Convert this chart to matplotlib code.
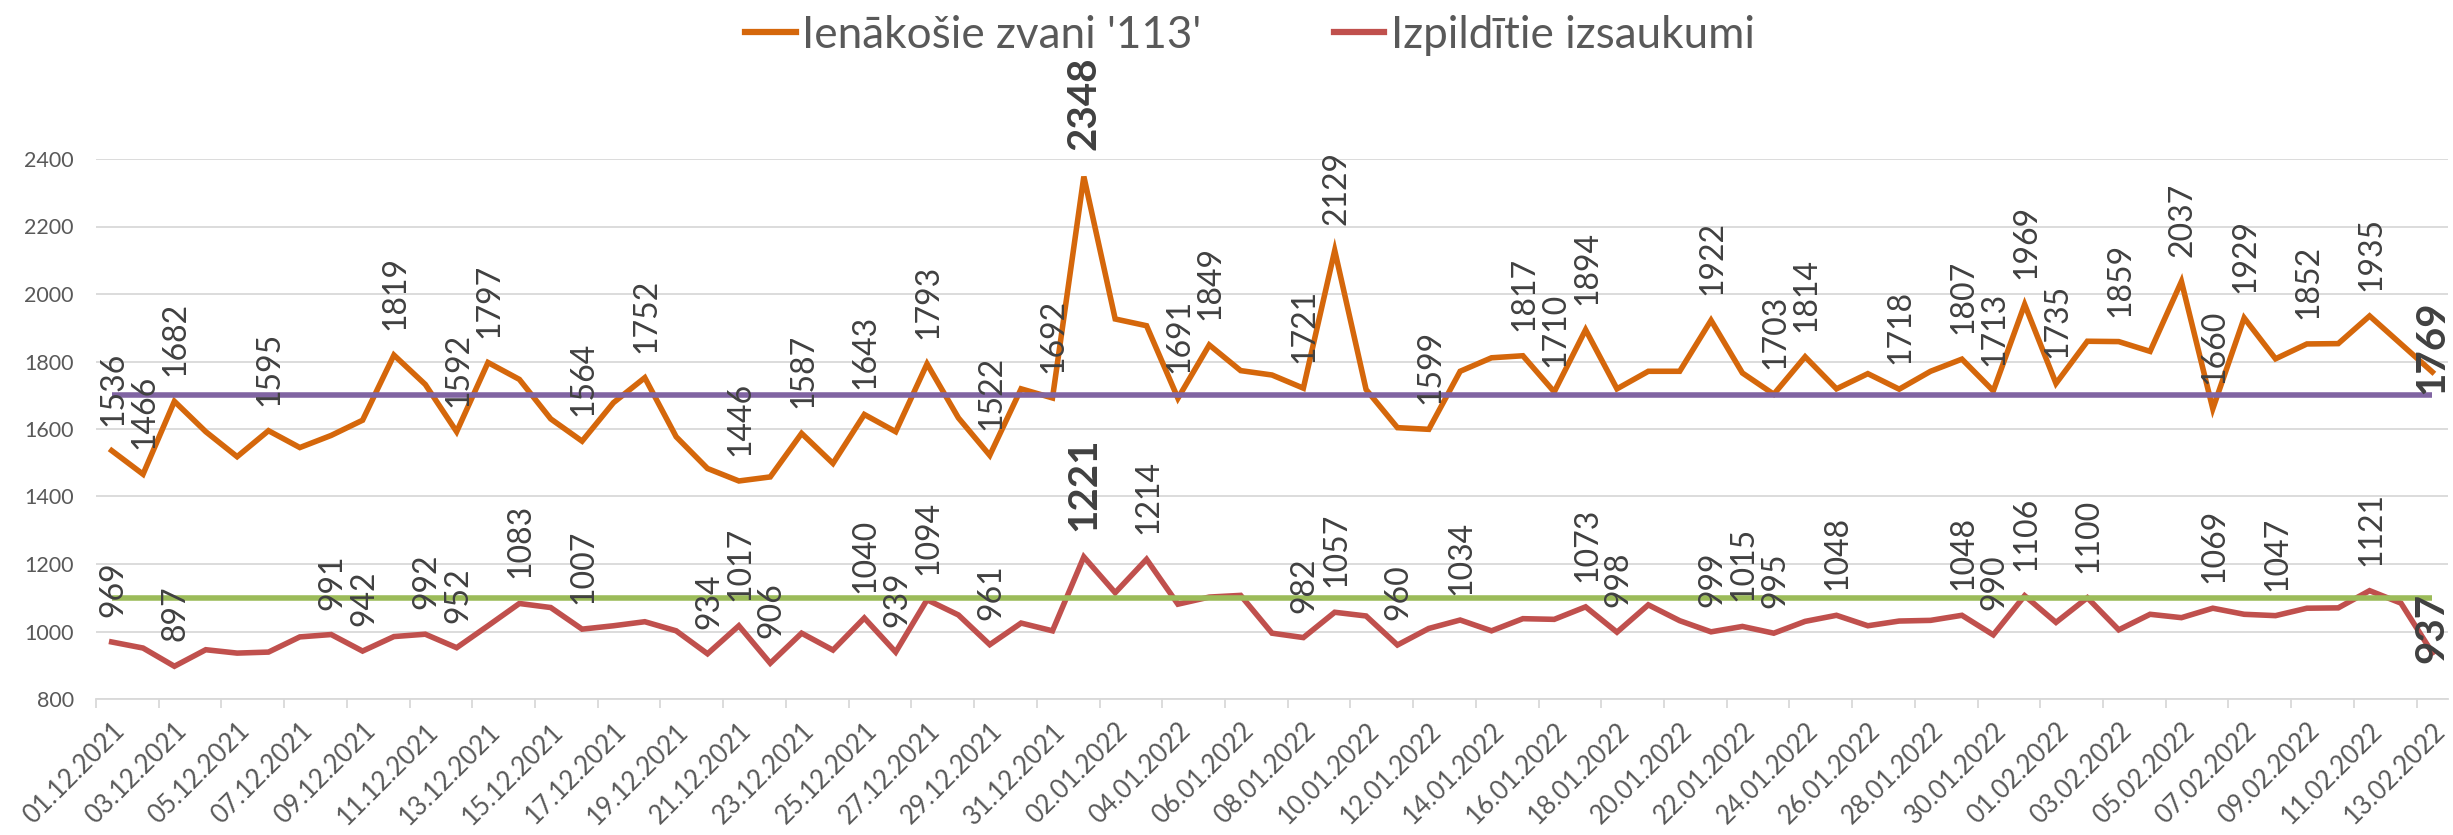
import datetime as dt
import matplotlib
matplotlib.use("Agg")
import matplotlib.pyplot as plt
from matplotlib.lines import Line2D
from matplotlib.ticker import FixedLocator

plt.rcParams["font.family"] = ["Lato", "DejaVu Sans"]

# Daily figures, 01.12.2021 - 13.02.2022
start_date = dt.date(2021, 12, 1)
n_days = 75
dates = [start_date + dt.timedelta(days=i) for i in range(n_days)]
date_labels = [d.strftime("%d.%m.%Y") for d in dates]

incoming_calls = [
    1536, 1466, 1682, 1592, 1518, 1595, 1545, 1581, 1626, 1819,
    1732, 1592, 1797, 1747, 1630, 1564, 1678, 1752, 1577, 1483,
    1446, 1458, 1587, 1498, 1643, 1592, 1793, 1633, 1522, 1719,
    1692, 2348, 1926, 1906, 1691, 1849, 1773, 1760, 1721, 2129,
    1717, 1604, 1599, 1771, 1811, 1817, 1710, 1894, 1719, 1771,
    1771, 1922, 1766, 1703, 1814, 1719, 1764, 1718, 1771, 1807,
    1713, 1969, 1735, 1860, 1859, 1830, 2037, 1660, 1929, 1808,
    1852, 1853, 1935, 1852, 1769,
]
dispatched_calls = [
    969, 951, 897, 946, 936, 939, 984, 991, 942, 985,
    992, 952, 1017, 1083, 1071, 1007, 1017, 1029, 1002, 934,
    1017, 906, 995, 945, 1040, 939, 1094, 1049, 961, 1025,
    1002, 1221, 1115, 1214, 1081, 1102, 1107, 995, 982, 1057,
    1046, 960, 1009, 1034, 1002, 1038, 1036, 1073, 998, 1079,
    1032, 999, 1015, 995, 1030, 1048, 1017, 1031, 1033, 1048,
    990, 1106, 1027, 1100, 1005, 1051, 1041, 1069, 1051, 1047,
    1069, 1070, 1121, 1084, 937,
]

incoming_level = 1700
dispatched_level = 1100

# Points that carry a value label
incoming_labelled = [0, 1, 2, 5, 9, 11, 12, 15, 17, 20, 22, 24, 26, 28, 30, 31,
                     34, 35, 38, 39, 42, 45, 46, 47, 51, 53, 54, 57, 59, 60, 61,
                     62, 64, 66, 67, 68, 70, 72, 74]
dispatched_labelled = [0, 2, 7, 8, 10, 11, 13, 15, 19, 20, 21, 24, 25, 26, 28, 31,
                       33, 38, 39, 41, 43, 47, 48, 51, 52, 53, 55, 59, 60, 61, 63,
                       67, 69, 72, 74]

series_names = ["Ienākošie zvani '113'", "Izpildītie izsaukumi"]

C_IN = "#D5670B"
C_DISP = "#C0504D"
C_IN_LVL = "#8064A2"
C_DISP_LVL = "#9BBB59"
C_GRID = "#D9D9D9"
C_TEXT = "#595959"
C_LABEL = "#404040"

DPI = 100
fig = plt.figure(figsize=(2453 / DPI, 835 / DPI), dpi=DPI)
ax = fig.add_axes([96 / 2453, 1 - 699 / 835, (2448 - 96) / 2453, (699 - 159) / 835])

x = list(range(n_days))
ax.plot(x, incoming_calls, color=C_IN, lw=4.0, solid_joinstyle="miter", zorder=3)
ax.plot(x, dispatched_calls, color=C_DISP, lw=4.0, solid_joinstyle="miter", zorder=3)
ax.hlines(incoming_level, x[0], x[-1], color=C_IN_LVL, lw=4.0, zorder=4)
ax.hlines(dispatched_level, x[0], x[-1], color=C_DISP_LVL, lw=4.0, zorder=4)

ax.set_xlim(-0.5, n_days - 0.5)
ax.set_ylim(800, 2400)
ax.set_yticks(range(800, 2401, 200))
ax.grid(axis="y", color=C_GRID, lw=1.3, zorder=0)
ax.set_axisbelow(True)
for side in ("left", "right", "top"):
    ax.spines[side].set_visible(False)
ax.spines["bottom"].set_color(C_GRID)
ax.spines["bottom"].set_linewidth(1.3)

ax.tick_params(axis="y", length=0, pad=16, labelsize=15.5, labelcolor=C_TEXT)

# Date labels every second day, tick marks on category boundaries
ax.set_xticks(x[::2])
ax.set_xticklabels(date_labels[::2], rotation=45, ha="right",
                   rotation_mode="anchor", fontsize=18.5, color=C_TEXT)
ax.tick_params(axis="x", which="major", length=0, pad=14)
ax.xaxis.set_minor_locator(FixedLocator([i - 0.5 for i in range(0, n_days, 2)]))
ax.tick_params(axis="x", which="minor", length=6.5, width=1.3, color=C_GRID)


def value_labels(values, idx_list):
    peak = max(values)
    last = len(values) - 1
    for i in idx_list:
        v = values[i]
        if i == last:
            ax.annotate(str(v), (i, v), xytext=(0, 18), textcoords="offset points",
                        rotation=90, ha="center", va="center", fontsize=29,
                        fontweight="bold", color=C_LABEL, zorder=6,
                        annotation_clip=False)
        elif v == peak:
            ax.annotate(str(v), (i, v), xytext=(0, 19), textcoords="offset points",
                        rotation=90, ha="center", va="bottom", fontsize=29,
                        fontweight="bold", color=C_LABEL, zorder=6,
                        annotation_clip=False)
        else:
            ax.annotate(str(v), (i, v), xytext=(1, 18), textcoords="offset points",
                        rotation=90, ha="center", va="bottom", fontsize=23,
                        color=C_LABEL, zorder=6, annotation_clip=False)


value_labels(incoming_calls, incoming_labelled)
value_labels(dispatched_calls, dispatched_labelled)

handles = [Line2D([0], [0], color=C_IN, lw=4.5),
           Line2D([0], [0], color=C_DISP, lw=4.5)]
leg = fig.legend(handles, series_names, loc="center",
                 bbox_to_anchor=(1250 / 2453, 1 - 35 / 835), ncol=2, frameon=False,
                 fontsize=31.7, handlelength=1.15, handletextpad=0.15,
                 columnspacing=3.0)
for t in leg.get_texts():
    t.set_color(C_TEXT)

fig.savefig("out.png", dpi=DPI)
